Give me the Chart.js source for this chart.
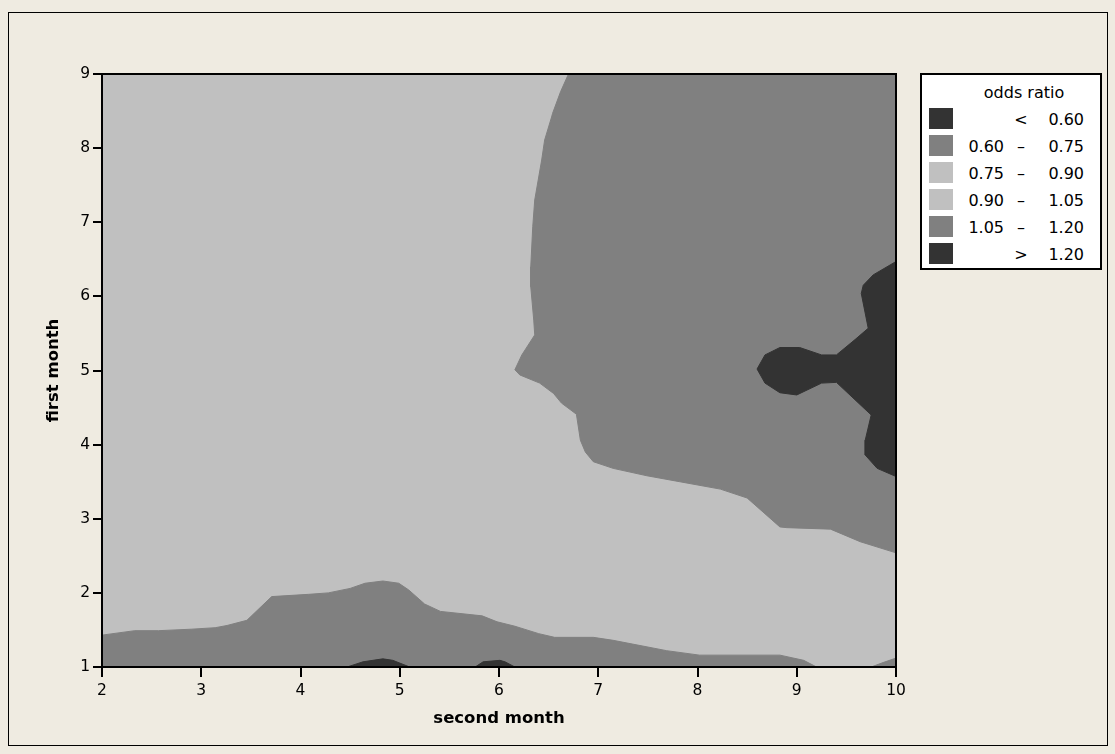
<!DOCTYPE html>
<html><head><meta charset="utf-8">
<script src="https://cdn.jsdelivr.net/npm/chart.js@4/dist/chart.umd.min.js"></script>
<style>
html,body{margin:0;padding:0;background:#EFEBE1;}
#wrap{position:relative;width:1115px;height:754px;overflow:hidden;}
canvas{position:absolute;left:0;top:0;}
#frame{position:absolute;left:8px;top:12px;width:1098px;height:732px;border:1px solid #000;pointer-events:none;}
#legend{position:absolute;left:920px;top:73px;width:178px;height:193px;border:2px solid #000;background:#fff;font-family:'DejaVu Sans',sans-serif;font-size:16px;color:#000;}
#legend div{position:absolute;white-space:nowrap;}
</style></head>
<body>
<div id="wrap">
<canvas id="c" width="1115" height="754"></canvas>
<div id="frame"></div>
<div id="legend"></div>
</div>
<script>
// ---- data ----
const xTickValues = [2, 3, 4, 5, 6, 7, 8, 9, 10];
const yTickValues = [1, 2, 3, 4, 5, 6, 7, 8, 9];
const xTitle = 'second month';
const yTitle = 'first month';
const legendTitle = 'odds ratio';
const legendLow  = ['', '0.60', '0.75', '0.90', '1.05', ''];
const legendSep  = ['<', '–', '–', '–', '–', '>'];
const legendHigh = ['0.60', '0.75', '0.90', '1.05', '1.20', '1.20'];
const legendColors = ['#333333', '#808080', '#C0C0C0', '#C0C0C0', '#808080', '#333333'];

// full plot region (0.90 - 1.05)
const baseX = [2, 10, 10, 2];
const baseY = [1, 1, 9, 9];
// 1.05 - 1.20 region (upper right)
const upperX = [6.70, 6.62, 6.54, 6.53, 6.46, 6.43, 6.36, 6.34, 6.32, 6.32, 6.35, 6.36, 6.23, 6.16, 6.21, 6.41, 6.55, 6.63, 6.78, 6.82, 6.87, 6.95, 7.15, 7.49, 7.82, 8.23, 8.50, 8.83, 8.90, 9.34, 9.64, 10.0, 10.0];
const upperY = [9.00, 8.76, 8.47, 8.42, 8.11, 7.84, 7.30, 6.94, 6.40, 6.13, 5.68, 5.48, 5.21, 5.01, 4.94, 4.83, 4.69, 4.56, 4.41, 4.06, 3.90, 3.77, 3.68, 3.58, 3.50, 3.40, 3.28, 2.89, 2.88, 2.86, 2.69, 2.54, 9.00];
// > 1.20 region (right edge)
const highX = [10.0, 9.77, 9.67, 9.65, 9.72, 9.59, 9.40, 9.25, 9.03, 8.83, 8.68, 8.60, 8.68, 8.83, 9.00, 9.25, 9.40, 9.75, 9.69, 9.69, 9.81, 10.0];
const highY = [6.47, 6.29, 6.15, 6.04, 5.57, 5.42, 5.21, 5.21, 5.31, 5.31, 5.21, 5.02, 4.83, 4.70, 4.67, 4.83, 4.84, 4.40, 4.06, 3.86, 3.68, 3.57];
// 0.60 - 0.75 band (bottom)
const bandX = [2.00, 2.33, 2.57, 2.90, 3.14, 3.26, 3.46, 3.71, 4.08, 4.28, 4.50, 4.65, 4.83, 4.99, 5.09, 5.25, 5.41, 5.83, 5.98, 6.16, 6.40, 6.56, 6.95, 7.15, 7.69, 8.02, 8.83, 9.07, 9.20, 2.00];
const bandY = [1.43, 1.49, 1.49, 1.51, 1.53, 1.56, 1.63, 1.95, 1.98, 2.00, 2.06, 2.13, 2.16, 2.13, 2.04, 1.85, 1.75, 1.69, 1.61, 1.55, 1.45, 1.40, 1.40, 1.36, 1.22, 1.16, 1.16, 1.09, 1.00, 1.00];
const wedgeX = [9.75, 9.87, 10.0, 10.0];
const wedgeY = [1.00, 1.06, 1.12, 1.00];
// < 0.60 bumps (bottom)
const lowAX = [4.47, 4.63, 4.83, 4.93, 5.10];
const lowAY = [1.00, 1.07, 1.11, 1.09, 1.00];
const lowBX = [5.76, 5.84, 6.01, 6.06, 6.16];
const lowBY = [1.00, 1.07, 1.09, 1.07, 1.00];

// ---- legend (HTML text) ----
const lg = document.getElementById('legend');
function addDiv(style, text) { const d = document.createElement('div'); Object.assign(d.style, style); if (text !== undefined) d.textContent = text; lg.appendChild(d); return d; }
addDiv({left: '42px', top: '8px', width: '120px', textAlign: 'center', lineHeight: '20px'}, legendTitle);
legendHigh.forEach((h, i) => {
  const top = 33 + 26.9 * i;
  addDiv({left: '7px', top: top + 'px', width: '24px', height: '21px', background: legendColors[i]});
  addDiv({left: '22px', top: (top + 1) + 'px', width: '60px', textAlign: 'right', lineHeight: '21px'}, legendLow[i]);
  addDiv({left: '89px', top: (top + 1) + 'px', width: '20px', textAlign: 'center', lineHeight: '21px'}, legendSep[i]);
  addDiv({left: '102px', top: (top + 1) + 'px', width: '60px', textAlign: 'right', lineHeight: '21px'}, h);
});

// ---- chart ----
function poly(xs, ys, color) {
  return {
    data: xs.map((x, i) => ({x: x, y: ys[i]})),
    showLine: true, fill: 'shape', backgroundColor: color, borderColor: color,
    borderWidth: 1, pointRadius: 0, pointHoverRadius: 0, tension: 0
  };
}
const frame = {
  id: 'plotFrame',
  afterDatasetsDraw(chart) {
    const a = chart.chartArea, ctx = chart.ctx;
    ctx.save(); ctx.strokeStyle = '#000'; ctx.lineWidth = 2;
    ctx.strokeRect(a.left, a.top, a.right - a.left, a.bottom - a.top);
    ctx.restore();
  }
};
const tickFont = {family: 'DejaVu Sans', size: 15.5};
const titleFont = {family: 'DejaVu Sans', size: 16.5, weight: 'bold'};
new Chart(document.getElementById('c'), {
  type: 'scatter',
  data: {
    datasets: [
      poly(lowAX, lowAY, '#333333'),
      poly(lowBX, lowBY, '#333333'),
      poly(highX, highY, '#333333'),
      poly(upperX, upperY, '#808080'),
      poly(bandX, bandY, '#808080'),
      poly(wedgeX, wedgeY, '#808080'),
      poly(baseX, baseY, '#C0C0C0')
    ]
  },
  options: {
    responsive: false, animation: false, events: [],
    layout: {padding: {left: 0, top: 74, right: 219, bottom: 17}},
    plugins: {legend: {display: false}, tooltip: {enabled: false}},
    scales: {
      x: {
        type: 'linear', min: 2, max: 10,
        afterBuildTicks: s => { s.ticks = xTickValues.map(v => ({value: v})); },
        ticks: {color: '#000', font: tickFont, padding: 5, maxRotation: 0},
        grid: {drawOnChartArea: false, color: '#000', tickLength: 10, lineWidth: 2},
        border: {color: '#000', width: 2},
        title: {display: true, text: xTitle, color: '#000', font: titleFont, padding: {top: 0, bottom: 8}},
        afterFit: s => { s.height = 70; }
      },
      y: {
        type: 'linear', min: 1, max: 9,
        afterBuildTicks: s => { s.ticks = yTickValues.map(v => ({value: v})); },
        ticks: {color: '#000', font: tickFont, padding: 3},
        grid: {drawOnChartArea: false, color: '#000', tickLength: 9, lineWidth: 2},
        border: {color: '#000', width: 2},
        title: {display: true, text: yTitle, color: '#000', font: titleFont, padding: {top: 44, bottom: 0}},
        afterFit: s => { s.width = 102; }
      }
    }
  },
  plugins: [frame]
});
</script>
</body></html>
